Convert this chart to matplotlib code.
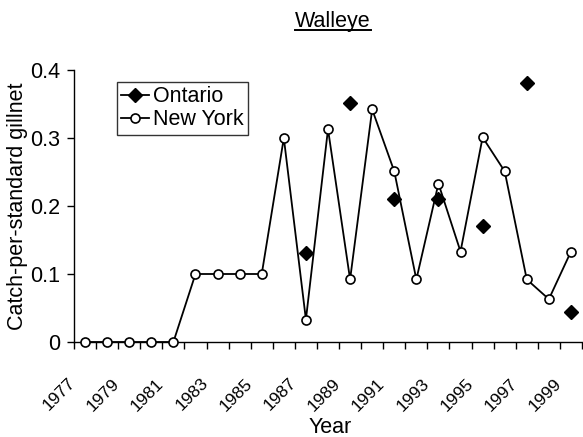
import numpy as np
import matplotlib
matplotlib.use('Agg')
import matplotlib.pyplot as plt
import matplotlib.transforms as mtransforms
from matplotlib.lines import Line2D

plt.rcParams['font.family'] = ['Liberation Sans', 'DejaVu Sans']

years = list(range(1977, 2000))
new_york = [0, 0, 0, 0, 0, 0.10, 0.10, 0.10, 0.10, 0.30, 0.033, 0.313,
            0.092, 0.342, 0.251, 0.092, 0.233, 0.133, 0.301, 0.251,
            0.092, 0.063, 0.133]
nan = np.nan
ontario = [nan, nan, nan, nan, nan, nan, nan, nan, nan, nan, 0.131, nan,
           0.351, nan, 0.211, nan, 0.21, nan, 0.171, nan, 0.381, nan, 0.044]
tick_labels = [str(y) for y in years[::2]]

W, H = 583, 437
FS = 15.5
fig = plt.figure(figsize=(W / 100, H / 100), dpi=100)
ax = fig.add_axes([74 / W, (H - 342) / H, 508 / W, 272 / H])

x = np.arange(len(years))
ax.plot(x, ontario, color='black', lw=1.3, marker='D', ms=7,
        mfc='black', mec='black', clip_on=False, zorder=3)
ax.plot(x, new_york, color='black', lw=1.3, marker='o', ms=6.5,
        mfc='white', mec='black', mew=1.2, clip_on=False, zorder=4)

ax.set_xlim(-0.5, len(years) - 0.5)
ax.set_ylim(0, 0.4)
ax.set_yticks([0, 0.1, 0.2, 0.3, 0.4])
ax.set_yticklabels(['0', '0.1', '0.2', '0.3', '0.4'], fontsize=FS)

# category boundaries get the tick marks, labels sit at every second category
ax.set_xticks(np.arange(-0.5, len(years), 1.0), minor=True)
ax.set_xticks(x[::2])
ax.set_xticklabels(tick_labels, fontsize=12.5, rotation=45, ha='right',
                   va='center', rotation_mode='anchor')
ax.tick_params(axis='x', which='major', length=0, pad=28)
ax.tick_params(axis='x', which='minor', length=5, width=1, direction='out')
ax.tick_params(axis='y', length=5, width=1, direction='out', pad=5)
shift = mtransforms.ScaledTranslation(-0.12, 0, fig.dpi_scale_trans)
for lbl in ax.get_xticklabels():
    lbl.set_transform(lbl.get_transform() + shift)

for side in ['top', 'right']:
    ax.spines[side].set_visible(False)
for side in ['left', 'bottom']:
    ax.spines[side].set_linewidth(1)

handles = [Line2D([], [], color='black', lw=1.3, marker='D', ms=7, mfc='black'),
           Line2D([], [], color='black', lw=1.3, marker='o', ms=6.5, mfc='white', mew=1.2)]
leg = ax.legend(handles, ['Ontario', 'New York'], loc='upper left',
                bbox_to_anchor=(0.085, 0.956), borderaxespad=0, fontsize=FS,
                frameon=True, fancybox=False, edgecolor='black',
                handlelength=1.3, handletextpad=0.15, borderpad=0.2,
                labelspacing=0.1)
leg.get_frame().set_linewidth(1)

fig.text(18 / W, (H - 206) / H, 'Catch-per-standard gillnet', rotation=90,
         ha='center', va='center', fontsize=FS)
fig.text(330 / W, (H - 433) / H, 'Year', ha='center', va='baseline', fontsize=FS)
title = fig.text(333 / W, (H - 27) / H, 'Walleye', ha='center', va='baseline',
                 fontsize=FS)

fig.canvas.draw()
bb = title.get_window_extent()
uy = (H - 29.5) / H
fig.add_artist(Line2D([bb.x0 / W, bb.x1 / W], [uy, uy], color='black', lw=1.4))

fig.savefig('out.png', dpi=100)
